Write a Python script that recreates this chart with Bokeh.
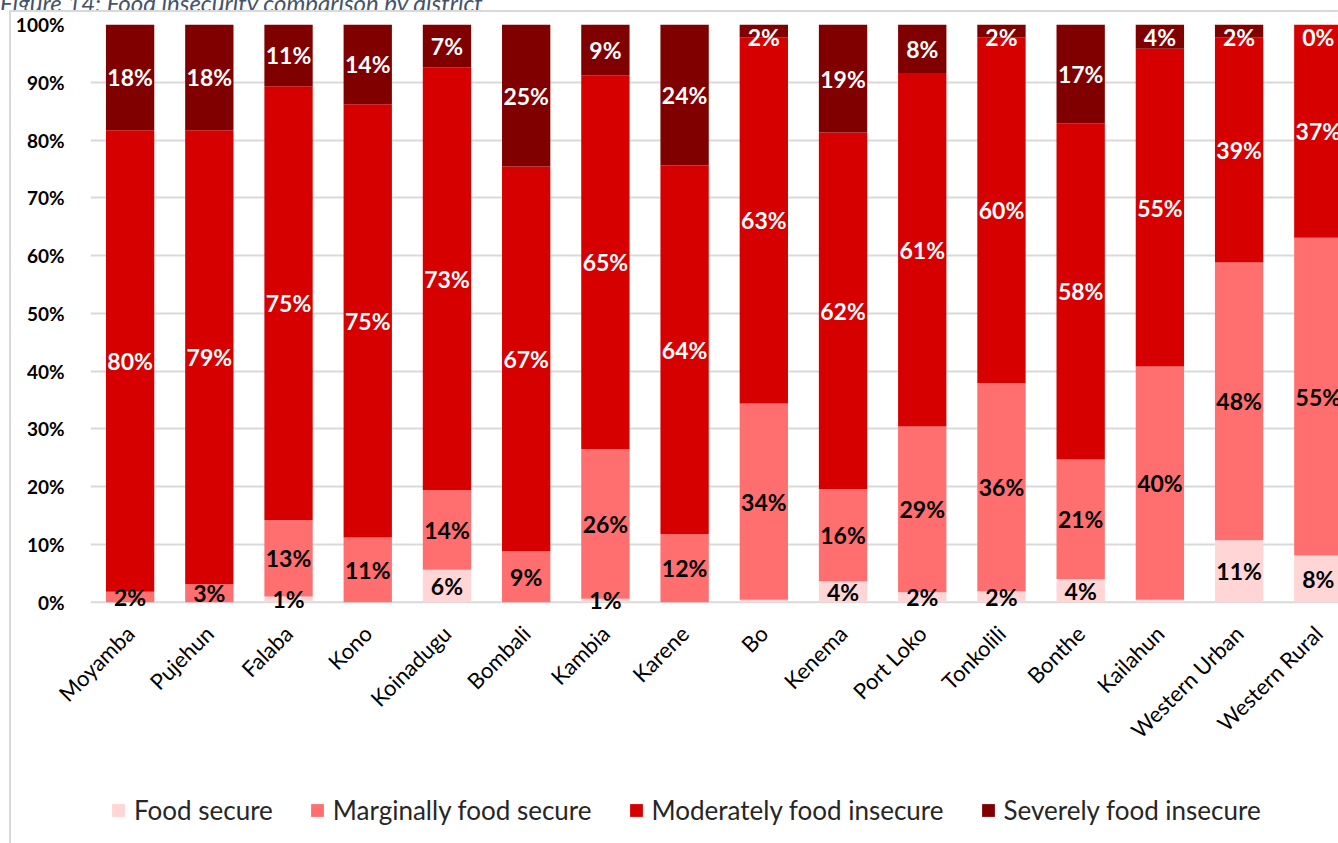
import math
from bokeh.plotting import figure
from bokeh.models import (ColumnDataSource, FixedTicker, Legend, LegendItem, Range1d,
                          Div, PrintfTickFormatter, Span)
from bokeh.layouts import column
from bokeh.embed import file_html
from bokeh.resources import INLINE
from bokeh.core.properties import value

districts = ["Moyamba", "Pujehun", "Falaba", "Kono", "Koinadugu", "Bombali", "Kambia",
             "Karene", "Bo", "Kenema", "Port Loko", "Tonkolili", "Bonthe", "Kailahun",
             "Western Urban", "Western Rural"]
food_secure = [0.0, 0.0, 1.0, 0.0, 5.6, 0.0, 0.6, 0.0, 0.4, 3.6, 1.7, 1.9, 4.0, 0.4, 10.7, 8.1]
marginal = [1.8, 3.1, 13.2, 11.2, 13.8, 8.8, 25.9, 11.8, 34.0, 16.0, 28.7, 36.0, 20.7, 40.4, 48.1, 55.0]
moderate = [79.9, 78.6, 75.1, 75.0, 73.2, 66.6, 64.7, 63.8, 63.4, 61.7, 61.2, 59.9, 58.2, 55.0, 39.0, 36.9]
severe = [18.3, 18.3, 10.7, 13.8, 7.4, 24.6, 8.8, 24.4, 2.2, 18.7, 8.4, 2.2, 17.1, 4.2, 2.2, 0.0]

series_names = ["Food secure", "Marginally food secure", "Moderately food insecure",
                "Severely food insecure"]
series_keys = ["fs", "mfs", "mfi", "sfi"]
colors = ["#FFD5D5", "#FF6F6F", "#D60000", "#800000"]
label_colors = ["black", "black", "white", "white"]
y_ticks = list(range(0, 101, 10))

FONT = "Lato"
BORDER = "2px solid #D9D9D9"

xs = list(range(len(districts)))
src = ColumnDataSource(dict(x=xs, fs=food_secure, mfs=marginal, mfi=moderate, sfi=severe))

p = figure(width=1329, height=748, output_backend="svg", toolbar_location=None,
           x_range=Range1d(-0.5, 15.28), y_range=Range1d(-3, 100),
           min_border_left=79, min_border_right=0, min_border_top=12, min_border_bottom=141,
           background_fill_color="white", border_fill_color="white", margin=(0, 0, 0, 9))
p.outline_line_color = None
p.styles = {"border-left": BORDER, "border-top": BORDER}

renderers = p.vbar_stack(series_keys, x="x", width=0.61, source=src, color=colors,
                         line_color=None)

# zero baseline (category axis line)
p.add_layout(Span(location=0, dimension="width", line_color="#D9D9D9", line_width=2,
                  level="underlay"))

# data labels
lx, ly, lt, lc = [], [], [], []
series_vals = [food_secure, marginal, moderate, severe]
for i in range(len(districts)):
    base = 0.0
    for s, vals in enumerate(series_vals):
        v = vals[i]
        r = int(v + 0.5)
        show = not (s == 0 and r < 1)
        if show:
            lx.append(i)
            ly.append(min(base + v / 2.0, 97.8))
            lt.append(f"{r}%")
            lc.append(label_colors[s])
        base += v
lab = ColumnDataSource(dict(x=lx, y=ly, t=lt, c=lc))
p.text(x="x", y="y", text="t", source=lab, text_color="c", text_align="center",
       text_baseline="middle", text_font=value(FONT), text_font_style="bold",
       text_font_size="23px")

# axes
p.xgrid.grid_line_color = None
p.ygrid.grid_line_color = "#D9D9D9"
p.ygrid.grid_line_width = 2
p.ygrid.ticker = FixedTicker(ticks=y_ticks[1:])

p.yaxis.ticker = FixedTicker(ticks=y_ticks)
p.yaxis.formatter = PrintfTickFormatter(format="%d%%")
p.yaxis.axis_line_color = None
p.yaxis.major_tick_line_color = None
p.yaxis.minor_tick_line_color = None
p.yaxis.major_label_standoff = 20
p.yaxis.major_label_text_font = FONT
p.yaxis.major_label_text_font_style = "bold"
p.yaxis.major_label_text_font_size = "19px"
p.yaxis.major_label_text_color = "black"

p.xaxis.ticker = FixedTicker(ticks=xs)
p.xaxis.major_label_overrides = {i: d for i, d in enumerate(districts)}
p.xaxis.major_label_orientation = math.pi / 4
p.xaxis.axis_line_color = None
p.xaxis.major_tick_line_color = None
p.xaxis.minor_tick_line_color = None
p.xaxis.major_label_standoff = 4
p.xaxis.major_label_text_font = FONT
p.xaxis.major_label_text_font_size = "22px"
p.xaxis.major_label_text_color = "black"

# legend in its own strip below the chart
lg = figure(width=1329, height=85, output_backend="svg", toolbar_location=None,
            x_range=Range1d(0, 1), y_range=Range1d(0, 1),
            x_axis_location=None, y_axis_location=None,
            min_border_left=0, min_border_right=0, min_border_top=0, min_border_bottom=0,
            background_fill_color="white", border_fill_color="white", margin=(0, 0, 0, 9))
lg.outline_line_color = None
lg.grid.visible = False
lg.styles = {"border-left": BORDER}
swatch = ColumnDataSource(dict(x=[0.5], fs=[0], mfs=[0], mfi=[0], sfi=[0]))
lg_r = lg.vbar_stack(series_keys, x="x", width=0.01, source=swatch, color=colors,
                     line_color=None)

legend = Legend(items=[LegendItem(label=n, renderers=[r]) for n, r in zip(series_names, lg_r)],
                orientation="horizontal", location=(20, 17),
                label_text_font=FONT, label_text_font_size="26px", label_text_color="#262626",
                glyph_width=16, glyph_height=16, spacing=36, label_standoff=8,
                border_line_color=None, background_fill_alpha=0, margin=0, padding=0)
lg.add_layout(legend, "center")

title = Div(text=('<div style="margin-top:-16px; font-family: Lato; font-style: italic; '
                  'font-size: 24px; line-height: 24px; color: #44546A; white-space: nowrap;">'
                  'Figure 14: Food insecurity comparison by district</div>'),
            width=600, height=10, margin=0, styles={"overflow": "hidden"})

layout = column(title, p, lg, spacing=0, margin=0)
open("out.html", "w").write(file_html(layout, INLINE))
